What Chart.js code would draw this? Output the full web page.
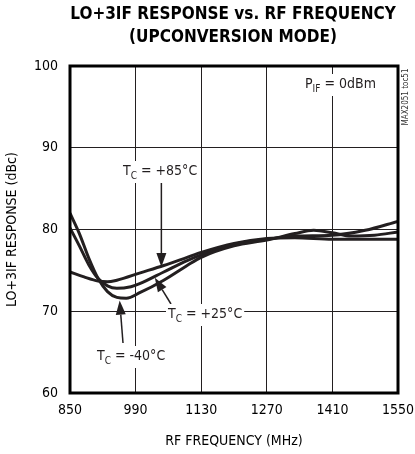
<!DOCTYPE html>
<html>
<head>
<meta charset="utf-8">
<script src="https://cdn.jsdelivr.net/npm/chart.js@4"></script>
<style>
  body { margin: 0; background: #fff; }
  canvas { display: block; }
</style>
</head>
<body>
<canvas id="chart" width="415" height="454"></canvas>
<script>
// data (MHz -> dBc)
var freqM40 = [850, 870, 890, 910, 930, 950, 970, 1000, 1050, 1100, 1130, 1200, 1270, 1330, 1370, 1410, 1450, 1500, 1550];
var respM40 = [82.0, 79.5, 76.5, 74.0, 72.4, 71.7, 71.6, 72.3, 73.8, 75.6, 76.6, 78.0, 78.7, 79.5, 79.9, 79.6, 79.2, 79.3, 79.7];
var freqP25 = [850, 870, 890, 910, 930, 950, 980, 1000, 1050, 1100, 1130, 1200, 1270, 1330, 1410, 1480, 1550];
var respP25 = [80.2, 78.0, 75.7, 74.0, 73.1, 72.8, 73.0, 73.4, 74.8, 76.2, 76.9, 78.2, 78.8, 79.2, 79.3, 79.9, 81.0];
var freqP85 = [850, 880, 910, 930, 950, 1000, 1050, 1100, 1130, 1200, 1270, 1330, 1410, 1480, 1550];
var respP85 = [74.8, 74.2, 73.7, 73.6, 73.8, 74.7, 75.6, 76.6, 77.2, 78.3, 78.9, 79.0, 78.8, 78.8, 78.8];
var xTicks = [850, 990, 1130, 1270, 1410, 1550];
var yTicks = [60, 70, 80, 90, 100];

var FONT = '"Liberation Sans Narrow", "DejaVu Sans Condensed", "Liberation Sans", sans-serif';
var INK = '#231f20';

var pts = (xs, ys) => xs.map((x, i) => ({ x: x, y: ys[i] }));

var mkSet = (xs, ys) => ({
  data: pts(xs, ys),
  borderColor: INK,
  borderWidth: 3,
  pointRadius: 0,
  cubicInterpolationMode: 'monotone',
  fill: false
});

// T with subscript C, text box with white back
var tcLabel = (ctx, x, y, rest) => {
  ctx.font = '14px ' + FONT;
  var wT = ctx.measureText('T').width;
  ctx.font = '10px ' + FONT;
  var wC = ctx.measureText('C').width;
  ctx.font = '14px ' + FONT;
  var wR = ctx.measureText(rest).width;
  ctx.fillStyle = '#fff';
  ctx.fillRect(x - 2, y - 10, wT + wC + wR + 4, 22);
  ctx.fillStyle = INK;
  ctx.textBaseline = 'middle';
  ctx.textAlign = 'left';
  ctx.fillText('T', x, y);
  ctx.font = '10px ' + FONT;
  ctx.fillText('C', x + wT, y + 5);
  ctx.font = '14px ' + FONT;
  ctx.fillText(rest, x + wT + wC, y);
};

var arrow = (ctx, x1, y1, x2, y2) => {
  var a = Math.atan2(y2 - y1, x2 - x1);
  var len = 14, half = 5;
  ctx.strokeStyle = INK;
  ctx.lineWidth = 1.5;
  ctx.beginPath();
  ctx.moveTo(x1, y1);
  ctx.lineTo(x2 - Math.cos(a) * len, y2 - Math.sin(a) * len);
  ctx.stroke();
  ctx.fillStyle = INK;
  ctx.beginPath();
  ctx.moveTo(x2, y2);
  ctx.lineTo(x2 - Math.cos(a) * len - Math.sin(a) * half, y2 - Math.sin(a) * len + Math.cos(a) * half);
  ctx.lineTo(x2 - Math.cos(a) * len + Math.sin(a) * half, y2 - Math.sin(a) * len - Math.cos(a) * half);
  ctx.closePath();
  ctx.fill();
};

var decor = {
  id: 'decor',
  afterDraw(chart) {
    var ctx = chart.ctx;
    var a = chart.chartArea;
    var xs = chart.scales.x, ys = chart.scales.y;
    ctx.save();

    // title
    ctx.fillStyle = '#000';
    ctx.textAlign = 'center';
    ctx.textBaseline = 'middle';
    ctx.font = 'bold 17px ' + FONT;
    ctx.fillText('LO+3IF RESPONSE vs. RF FREQUENCY', 233, 15);
    ctx.fillText('(UPCONVERSION MODE)', 233, 38);

    // frame
    ctx.strokeStyle = '#000';
    ctx.lineWidth = 3;
    ctx.strokeRect(a.left, a.top, a.right - a.left, a.bottom - a.top);

    // P_IF label
    ctx.font = '14px ' + FONT;
    var wP = ctx.measureText('P').width;
    ctx.font = '10px ' + FONT;
    var wIF = ctx.measureText('IF').width;
    ctx.font = '14px ' + FONT;
    var wRest = ctx.measureText(' = 0dBm').width;
    var px = 305, py = 84;
    ctx.fillStyle = '#fff';
    ctx.fillRect(px - 2, py - 10, wP + wIF + wRest + 4, 22);
    ctx.fillStyle = INK;
    ctx.textAlign = 'left';
    ctx.fillText('P', px, py);
    ctx.font = '10px ' + FONT;
    ctx.fillText('IF', px + wP, py + 5);
    ctx.font = '14px ' + FONT;
    ctx.fillText(' = 0dBm', px + wP + wIF, py);

    // temperature labels and arrows
    arrow(ctx, xs.getPixelForValue(1045), 183, xs.getPixelForValue(1045), ys.getPixelForValue(75.4));
    tcLabel(ctx, 123, 171, ' = +85°C');
    arrow(ctx, 171, 304, xs.getPixelForValue(1031), ys.getPixelForValue(74.1));
    tcLabel(ctx, 168, 314, ' = +25°C');
    arrow(ctx, 123, 343, xs.getPixelForValue(956), ys.getPixelForValue(71.3));
    tcLabel(ctx, 97, 356, ' = -40°C');

    // part number, vertical
    ctx.translate(406, 97);
    ctx.rotate(-Math.PI / 2);
    ctx.font = '8px ' + FONT;
    ctx.textAlign = 'center';
    ctx.fillStyle = '#333';
    ctx.fillText('MAX2051 toc51', 0, 0);
    ctx.restore();
  }
};

new Chart(document.getElementById('chart'), {
  type: 'line',
  data: {
    datasets: [
      mkSet(freqM40, respM40),
      mkSet(freqP25, respP25),
      mkSet(freqP85, respP85)
    ]
  },
  plugins: [decor],
  options: {
    responsive: false,
    animation: false,
    layout: { padding: { top: 66, right: 17, bottom: 0, left: 0 } },
    plugins: {
      legend: { display: false },
      title: { display: false },
      tooltip: { enabled: false }
    },
    scales: {
      x: {
        type: 'linear',
        min: 850,
        max: 1550,
        afterFit(s) { s.height = 61; s.paddingLeft = 0; s.paddingRight = 0; },
        afterBuildTicks(s) { s.ticks = xTicks.map(v => ({ value: v })); },
        grid: { color: INK, lineWidth: 1, drawTicks: false },
        border: { display: false },
        ticks: { color: '#000', padding: 9, font: { family: FONT, size: 14 }, callback: v => String(v) },
        title: {
          display: true,
          text: 'RF FREQUENCY (MHz)',
          color: '#000',
          padding: { top: 3 },
          font: { family: FONT, size: 14 }
        }
      },
      y: {
        min: 60,
        max: 100,
        afterFit(s) { s.width = 70; s.paddingTop = 0; s.paddingBottom = 0; },
        afterBuildTicks(s) { s.ticks = yTicks.map(v => ({ value: v })); },
        grid: { color: INK, lineWidth: 1, drawTicks: false },
        border: { display: false },
        ticks: { color: '#000', padding: 12, font: { family: FONT, size: 14 }, callback: v => String(v) },
        title: {
          display: true,
          text: 'LO+3IF RESPONSE (dBc)',
          color: '#000',
          padding: { bottom: 4 },
          font: { family: FONT, size: 14 }
        }
      }
    }
  }
});
</script>
</body>
</html>
